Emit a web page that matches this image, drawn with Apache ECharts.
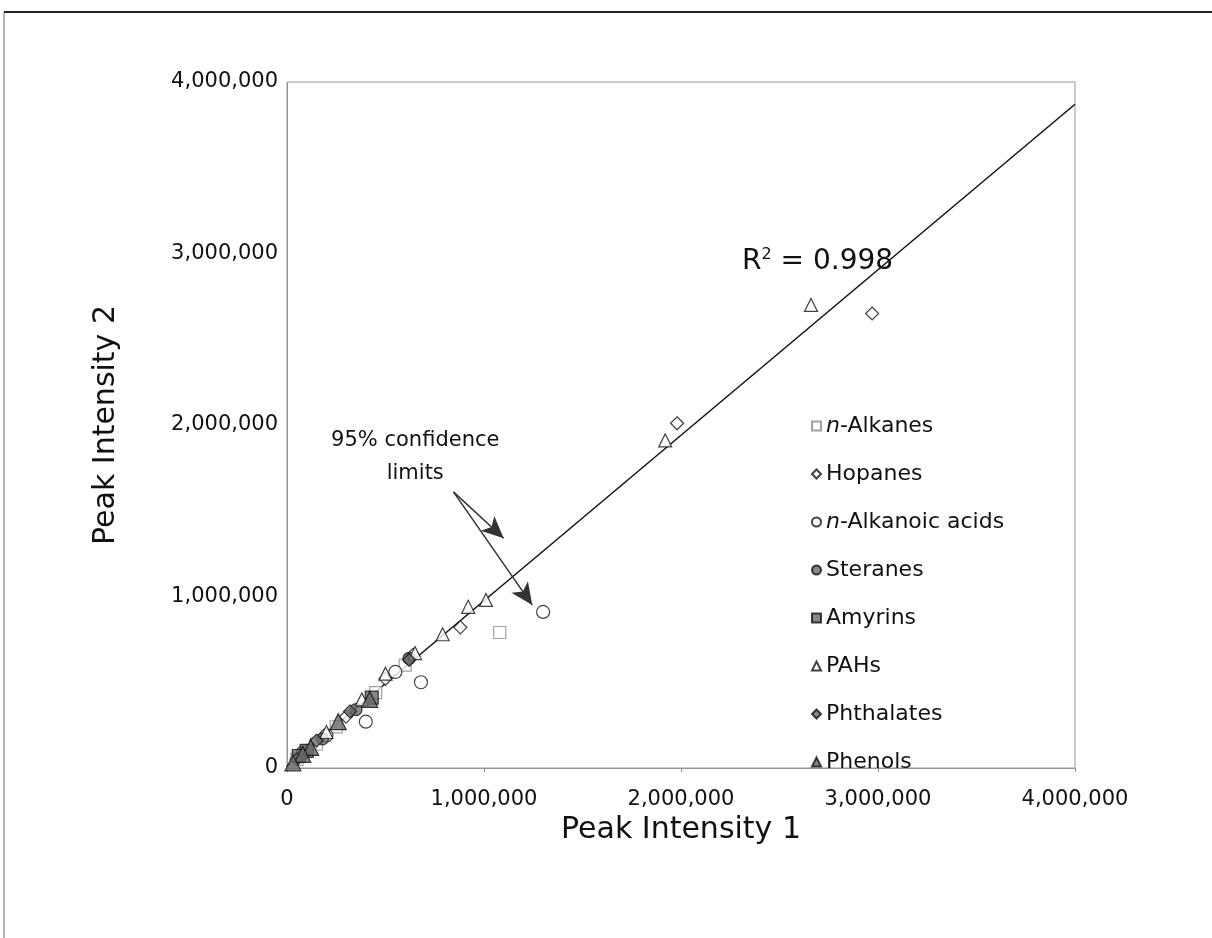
<!DOCTYPE html>
<html><head><meta charset="utf-8">
<script src="https://cdn.jsdelivr.net/npm/echarts@6/dist/echarts.min.js"></script>
<style>html,body{margin:0;padding:0;background:#fff}#c{width:1212px;height:938px}</style>
</head><body><div id="c"></div>
<script>
// ---- data (values in peak-intensity units) ----
const seriesNames = ['n-Alkanes','Hopanes','n-Alkanoic acids','Steranes','Amyrins','PAHs','Phthalates','Phenols'];
const alkanes = [[1080000,790000],[600000,600000],[450000,440000],[250000,240000],[150000,140000],[50000,50000]];
const hopanes = [[2970000,2650000],[1980000,2010000],[880000,820000],[640000,660000],[500000,520000],[300000,300000],[100000,100000]];
const alkanoicAcids = [[1300000,910000],[680000,500000],[400000,270000],[550000,560000],[200000,190000],[80000,90000]];
const steranes = [[620000,640000],[350000,340000],[180000,170000],[80000,80000]];
const amyrins = [[430000,410000],[100000,100000],[60000,70000]];
const pahs = [[2660000,2700000],[1920000,1910000],[1010000,980000],[920000,940000],[790000,780000],[650000,670000],[500000,550000],[380000,400000],[200000,210000]];
const phthalates = [[620000,630000],[320000,330000],[150000,160000],[50000,50000]];
const phenols = [[420000,400000],[260000,270000],[120000,120000],[80000,80000],[30000,30000]];
const fitSlope = 0.965, fitIntercept = 10000;
const fitX = [0, 4000000];
const r2Text = 'R{sup|2} = 0.998';
const ciText = '95% confidence\nlimits';

const FONT = 'DejaVu Sans, Liberation Sans, Arial, sans-serif';
const fmt = v => v.toLocaleString('en-US');
const chart = echarts.init(document.getElementById('c'), null, {renderer:'canvas'});

function sc(name, data, symbol, filled, size){
  return {
    name, type:'scatter', data, symbol, symbolSize:size,
    itemStyle: filled ? {color:'#6a6a6a', borderColor:'#111', borderWidth:1.2}
                      : {color:'#fff', borderColor: name==='n-Alkanes' ? '#888' : '#111', borderWidth:1.2},
    z:3
  };
}
const series = [
  sc('n-Alkanes', alkanes, 'rect', false, 12),
  sc('Hopanes', hopanes, 'diamond', false, 13),
  sc('n-Alkanoic acids', alkanoicAcids, 'circle', false, 13),
  sc('Steranes', steranes, 'circle', true, 12),
  sc('Amyrins', amyrins, 'rect', true, 13),
  sc('PAHs', pahs, 'triangle', false, 13),
  sc('Phthalates', phthalates, 'diamond', true, 13),
  sc('Phenols', phenols, 'triangle', true, 16),
  {
    name:'fit', type:'line', data: fitX.map(x => [x, fitSlope*x + fitIntercept]),
    symbol:'none', lineStyle:{color:'#111', width:1.5}, z:2, silent:true,
    markLine:{
      silent:true, symbol:['none','arrow'], symbolSize:[15,22],
      lineStyle:{color:'#333', width:1.5, type:'solid'}, label:{show:false},
      data:[
        [{coord:[845000,1610000]},{coord:[1100000,1340000]}],
        [{coord:[845000,1610000]},{coord:[1245000,950000]}]
      ]
    }
  }
];

chart.setOption({
  backgroundColor:'#fff',
  animation:false,
  grid:{left:287, right:137, top:82, bottom:170, show:true, borderColor:'#999', borderWidth:1},
  xAxis:{
    type:'value', min:0, max:4000000, interval:1000000,
    name:'Peak Intensity 1', nameLocation:'middle', nameGap:40,
    nameTextStyle:{fontFamily:FONT, fontSize:30, color:'#111'},
    axisLine:{show:true, lineStyle:{color:'#888', type:'dotted'}},
    axisTick:{show:true, length:4, lineStyle:{color:'#888'}},
    splitLine:{show:false},
    axisLabel:{formatter:fmt, fontFamily:FONT, fontSize:21, color:'#111', margin:21}
  },
  yAxis:{
    type:'value', min:0, max:4000000, interval:1000000,
    name:'Peak Intensity 2', nameLocation:'middle', nameGap:166,
    nameTextStyle:{fontFamily:FONT, fontSize:30, color:'#111'},
    axisLine:{show:true, lineStyle:{color:'#888', type:'dotted'}},
    axisTick:{show:false},
    splitLine:{show:false},
    axisLabel:{formatter:fmt, fontFamily:FONT, fontSize:21, color:'#111', margin:9}
  },
  legend:{
    data: seriesNames, orient:'vertical', left:806, top:408, itemGap:22,
    itemWidth:9, itemHeight:9,
    formatter: n => n.startsWith('n-') ? '{i|n}-' + n.slice(2) : n,
    textStyle:{fontFamily:FONT, fontSize:22, color:'#111', lineHeight:26,
      rich:{i:{fontStyle:'italic', fontFamily:FONT, fontSize:22, color:'#111', lineHeight:26}}},
    selectedMode:false
  },
  series
});

function px(x,y){ return chart.convertToPixel({gridIndex:0}, [x,y]); }
const r2Pos = px(2310000, 2950000);
const ciPos = px(651000, 1813000);
chart.setOption({
  graphic:[
    {type:'line', shape:{x1:4,y1:12,x2:1212,y2:12}, style:{stroke:'#222', lineWidth:2}},
    {type:'line', shape:{x1:4,y1:12,x2:4,y2:938}, style:{stroke:'#666', lineWidth:1}},
    {type:'text', x:r2Pos[0], y:r2Pos[1], style:{text:r2Text, fontFamily:FONT, fontSize:28, fill:'#111',
      verticalAlign:'middle', rich:{sup:{fontSize:16, verticalAlign:'top', padding:[0,0,14,0], fontFamily:FONT, fill:'#111'}}}},
    {type:'text', x:ciPos[0], y:ciPos[1], style:{text:ciText, fontFamily:FONT, fontSize:21, fill:'#111',
      align:'center', verticalAlign:'middle', lineHeight:33}}
  ]
});
</script></body></html>
